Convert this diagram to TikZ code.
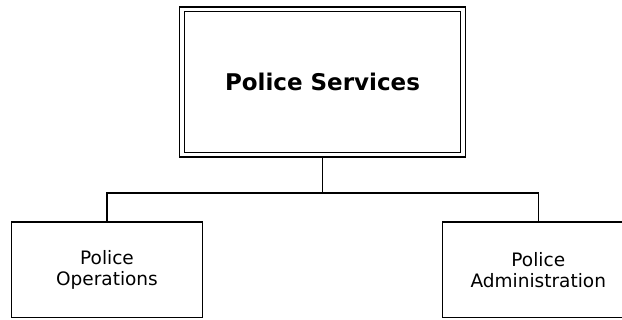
\documentclass[tikz,border=0pt]{standalone}
\usepackage{fontspec}
\setmainfont{DejaVu Sans}
\usepackage{tikz}
\usetikzlibrary{positioning}

\begin{document}
\begin{tikzpicture}[
    x=1pt, y=1pt,
    headbox/.style={rectangle, draw=black, line width=1.3pt, double, double distance=3.2pt, outer sep=2.25pt, minimum width=281pt, minimum height=145.5pt, align=center, font=\fontsize{23}{28}\selectfont\bfseries},
    unitbox/.style={rectangle, draw=black, line width=1.3pt, minimum width=191pt, minimum height=95.5pt, align=center, font=\fontsize{18.5}{20.7}\selectfont},
    link/.style={draw=black, line width=1.1pt},
]
\useasboundingbox (0,0) rectangle (622,320);

% Boxes
\node[headbox] (services) at (322.5,238) {Police Services};

\node[unitbox] (operations) at (107,50.2) {Police\\Operations};

\node[unitbox] (administration) at (538.3,50.2) {Police\\Administration};

% Connectors
\draw[link] (services.south) -- ++(0,-36) coordinate (split);
\draw[link] (split) -| (operations.north);
\draw[link] (split) -| (administration.north);

\end{tikzpicture}
\end{document}
